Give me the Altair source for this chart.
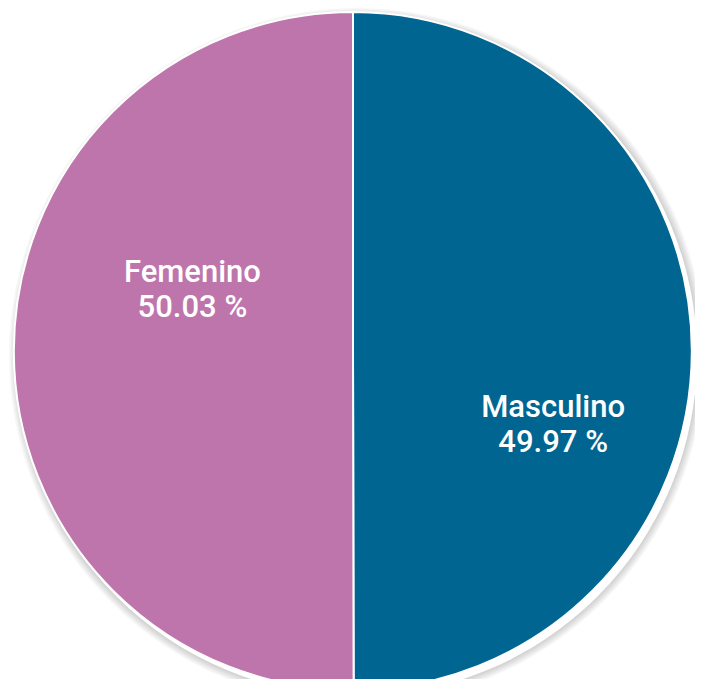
import altair as alt
import pandas as pd

categories = ["Masculino", "Femenino"]
values = [49.97, 50.03]
colors = ["#006691", "#BE75AC"]
label_angles = [110, 291]      # label direction in degrees, clockwise from top
label_radius = [213, 172]      # label distance from pie centre in px

df = pd.DataFrame({
    "cat": categories,
    "val": values,
    "order": [0, 1],
    "label": [f"{c}\n{v:.2f} %" for c, v in zip(categories, values)],
    "ang": label_angles,
    "rad": label_radius,
})

CX, CY, R = 345, 343, 339

shadow_steps = [0, 1, 2, 3, 4, 5]
shadow = pd.DataFrame({"s": shadow_steps, "v": [1] * len(shadow_steps)})

shadow_layer = alt.Chart(shadow).mark_arc(
    fill="black", fillOpacity=0.035, strokeOpacity=0
).encode(
    theta=alt.Theta("v:Q", stack=None, scale=alt.Scale(domain=[0, 1])),
    radius=alt.Radius("s:Q", scale=alt.Scale(domain=[0, 5], range=[R + 1, R + 9])),
    x=alt.value(CX + 4),
    y=alt.value(CY + 5),
)

pie = alt.Chart(df).mark_arc(stroke="white", strokeWidth=2).encode(
    theta=alt.Theta("val:Q", stack=True),
    order=alt.Order("order:Q"),
    color=alt.Color("cat:N", scale=alt.Scale(domain=categories, range=colors), legend=None),
    radius=alt.value(R),
    x=alt.value(CX),
    y=alt.value(CY),
)

text = alt.Chart(df).mark_text(
    font="Roboto", fontSize=31, fontWeight=500, color="white", lineBreak="\n",
    lineHeight=35, align="center", baseline="middle", dy=-16,
).encode(
    theta=alt.Theta("ang:Q", stack=None, scale=alt.Scale(domain=[0, 360], range=[0, 6.283185307])),
    radius=alt.Radius("rad:Q", scale=alt.Scale(type="linear", zero=True, domain=[0, 400], range=[0, 400])),
    text="label:N",
    x=alt.value(CX),
    y=alt.value(CY),
)

chart = alt.layer(shadow_layer, pie, text).resolve_scale(
    theta="independent", radius="independent"
).properties(
    width=687, height=671, padding=0, autosize=alt.AutoSizeParams(type="none")
).configure_view(stroke=None)

chart.save("out.html", embed_options={"renderer": "svg", "actions": False})
